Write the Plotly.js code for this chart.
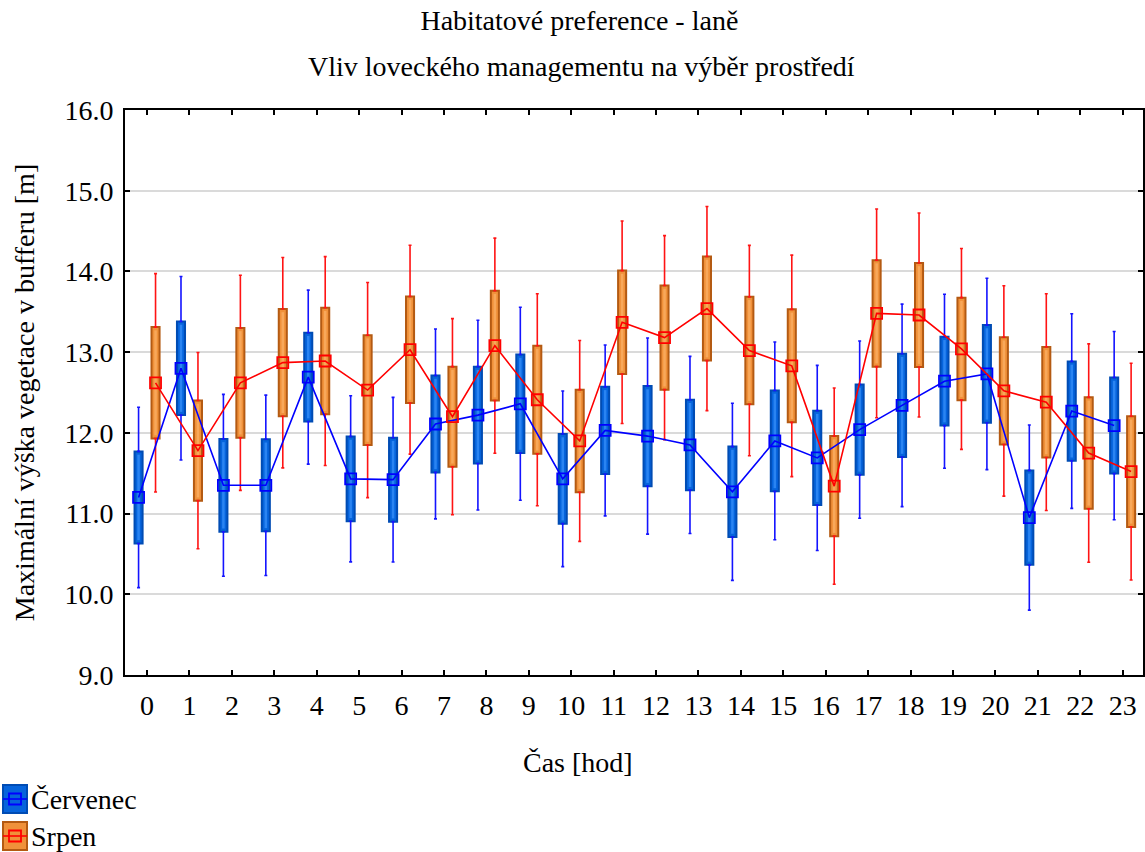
<!DOCTYPE html>
<html>
<head>
<meta charset="utf-8">
<script src="https://cdn.plot.ly/plotly-3.0.1.min.js"></script>
<style>
  html, body { margin: 0; padding: 0; background: #ffffff; }
  #chart { width: 1145px; height: 852px; }
</style>
</head>
<body>
<div id="chart"></div>
<script>
// Hour of day (x categories)
const hours = [0, 1, 2, 3, 4, 5, 6, 7, 8, 9, 10, 11, 12, 13, 14, 15, 16, 17, 18, 19, 20, 21, 22, 23];

// Series names
const seriesNames = ['Červenec', 'Srpen'];

// Červenec (July): mean and standard error per hour
const julyMean = [11.20, 12.80, 11.35, 11.35, 12.69, 11.43, 11.42, 12.11, 12.22, 12.36, 11.43, 12.03,
                  11.96, 11.85, 11.27, 11.90, 11.69, 12.04, 12.34, 12.64, 12.73, 10.95, 12.27, 12.09];
const julySE   = [0.57, 0.58, 0.575, 0.57, 0.55, 0.525, 0.52, 0.60, 0.60, 0.61, 0.555, 0.54,
                  0.62, 0.56, 0.56, 0.625, 0.585, 0.56, 0.64, 0.55, 0.605, 0.585, 0.615, 0.595];

// Srpen (August): mean and standard error per hour
const augMean  = [12.62, 11.78, 12.62, 12.87, 12.89, 12.53, 13.03, 12.20, 13.08, 12.41, 11.90, 13.37,
                  13.18, 13.54, 13.02, 12.83, 11.34, 13.48, 13.46, 13.04, 12.52, 12.38, 11.75, 11.52];
const augSE    = [0.69, 0.62, 0.68, 0.665, 0.66, 0.68, 0.66, 0.62, 0.68, 0.67, 0.635, 0.64,
                  0.645, 0.645, 0.665, 0.70, 0.62, 0.66, 0.645, 0.635, 0.665, 0.685, 0.69, 0.685];

// Box = mean ± SE, whiskers = mean ± 1.96·SE
const Z = 1.96;

const FONT = "'Liberation Serif', 'Times New Roman', Times, serif";
const FS = 28;
const M = { l: 125, r: 2, t: 110, b: 177 };
const W = 1145, H = 852;
const plotW = W - M.l - M.r, plotH = H - M.t - M.b;
const px2x = px => (px - M.l) / plotW;
const py2y = py => (H - M.b - py) / plotH;

const styles = [
  { off: -0.2, fill: '#0664dc', glow: '#2a84f2', edge: '#004cb4', whisk: '#1414ff', line: '#0000ff' },
  { off: 0.2, fill: '#f0913a', glow: '#f8a85a', edge: '#b45a12', whisk: '#ff1414', line: '#ff0000' }
];

function seriesTraces(mean, se, st, name) {
  const xs = hours.map(h => h + st.off);
  const lo = mean.map((m, i) => m - se[i]);
  const box = {
    type: 'bar', name: name, x: xs, base: lo,
    y: se.map(s => 2 * s),
    width: 0.19,
    marker: { color: st.fill, line: { color: st.edge, width: 2 } },
    showlegend: false, hoverinfo: 'skip'
  };
  // lighter centre strip that gives the boxes a slightly rounded look
  const sheen = {
    type: 'bar', x: xs, base: lo.map((v, i) => v + 0.04),
    y: se.map(s => 2 * s - 0.08),
    width: 0.06,
    marker: { color: st.glow, line: { width: 0 } },
    showlegend: false, hoverinfo: 'skip'
  };
  const upper = {
    type: 'scatter', mode: 'markers', x: xs,
    y: mean.map((m, i) => m + se[i]),
    marker: { size: 1, color: 'rgba(0,0,0,0)' },
    error_y: { type: 'data', symmetric: false,
               array: se.map(s => (Z - 1) * s), arrayminus: se.map(() => 0),
               color: st.whisk, thickness: 1.6, width: 1.5 },
    showlegend: false, hoverinfo: 'skip'
  };
  const lower = {
    type: 'scatter', mode: 'markers', x: xs,
    y: lo,
    marker: { size: 1, color: 'rgba(0,0,0,0)' },
    error_y: { type: 'data', symmetric: false,
               array: se.map(() => 0), arrayminus: se.map(s => (Z - 1) * s),
               color: st.whisk, thickness: 1.6, width: 1.5 },
    showlegend: false, hoverinfo: 'skip'
  };
  const means = {
    type: 'scatter', mode: 'lines+markers', name: name, x: xs, y: mean,
    line: { color: st.line, width: 1.6 },
    marker: { symbol: 'square-open', size: 11, color: st.line, line: { width: 1.8, color: st.line } },
    showlegend: false, hoverinfo: 'skip'
  };
  return { box, sheen, upper, lower, means };
}

const jul = seriesTraces(julyMean, julySE, styles[0], seriesNames[0]);
const aug = seriesTraces(augMean, augSE, styles[1], seriesNames[1]);

const data = [jul.box, jul.sheen, aug.box, aug.sheen,
              jul.upper, jul.lower, aug.upper, aug.lower, jul.means, aug.means];

// Legend below the plot: box icon with the mean marker and line
const legendShapes = [];
const legendNotes = [];
[[799, 0], [836, 1]].forEach(([cy, k]) => {
  const st = styles[k];
  legendShapes.push({ type: 'rect', xref: 'paper', yref: 'paper',
    x0: px2x(3), x1: px2x(27), y0: py2y(cy - 14), y1: py2y(cy + 14),
    fillcolor: st.fill, line: { color: st.edge, width: 2 } });
  legendShapes.push({ type: 'line', xref: 'paper', yref: 'paper',
    x0: px2x(3), x1: px2x(27), y0: py2y(cy), y1: py2y(cy),
    line: { color: st.line, width: 1.6 } });
  legendShapes.push({ type: 'rect', xref: 'paper', yref: 'paper',
    x0: px2x(9), x1: px2x(21), y0: py2y(cy - 5.5), y1: py2y(cy + 5.5),
    line: { color: st.line, width: 1.8 } });
  legendNotes.push({ xref: 'paper', yref: 'paper', x: px2x(29), y: py2y(cy),
    xanchor: 'left', yanchor: 'middle', showarrow: false, text: seriesNames[k],
    font: { family: FONT, size: FS, color: '#000' } });
});

const layout = {
  width: W, height: H,
  margin: M,
  paper_bgcolor: '#ffffff', plot_bgcolor: '#ffffff',
  showlegend: false,
  hovermode: false,
  barmode: 'overlay',
  font: { family: FONT, size: FS, color: '#000' },
  title: {
    text: 'Habitatové preference - laně',
    font: { family: FONT, size: FS, color: '#000' },
    xref: 'container', x: 0.506, xanchor: 'center',
    yref: 'container', y: 1 - 20 / H, yanchor: 'middle'
  },
  xaxis: {
    type: 'linear', range: [-0.52, 23.48],
    tickmode: 'array', tickvals: hours, ticktext: hours.map(String),
    ticks: 'inside', ticklen: 5, tickwidth: 2, tickcolor: '#000',
    showline: true, linecolor: '#000', linewidth: 2, mirror: 'ticks',
    showgrid: false, zeroline: false,
    tickfont: { family: FONT, size: FS, color: '#000' },
    ticklabelstandoff: 4
  },
  yaxis: {
    range: [9, 16], dtick: 1, tick0: 9, tickformat: '.1f',
    ticks: 'inside', ticklen: 5, tickwidth: 2, tickcolor: '#000',
    showline: true, linecolor: '#000', linewidth: 2, mirror: 'ticks',
    showgrid: true, gridcolor: '#dadada', gridwidth: 2, zeroline: false,
    tickfont: { family: FONT, size: FS, color: '#000' },
    ticklabelstandoff: 4,
    title: { text: 'Maximální výška vegetace v bufferu [m]',
             font: { family: FONT, size: FS, color: '#000' }, standoff: 22 }
  },
  shapes: legendShapes,
  annotations: [
    { xref: 'paper', yref: 'paper', x: px2x(581), y: py2y(66), xanchor: 'center', yanchor: 'middle',
      showarrow: false, text: 'Vliv loveckého managementu na výběr prostředí',
      font: { family: FONT, size: FS, color: '#000' } },
    { xref: 'paper', yref: 'paper', x: px2x(578), y: py2y(763), xanchor: 'center', yanchor: 'middle',
      showarrow: false, text: 'Čas [hod]',
      font: { family: FONT, size: FS, color: '#000' } }
  ].concat(legendNotes)
};

Plotly.newPlot('chart', data, layout, { displayModeBar: false, staticPlot: true });
</script>
</body>
</html>
